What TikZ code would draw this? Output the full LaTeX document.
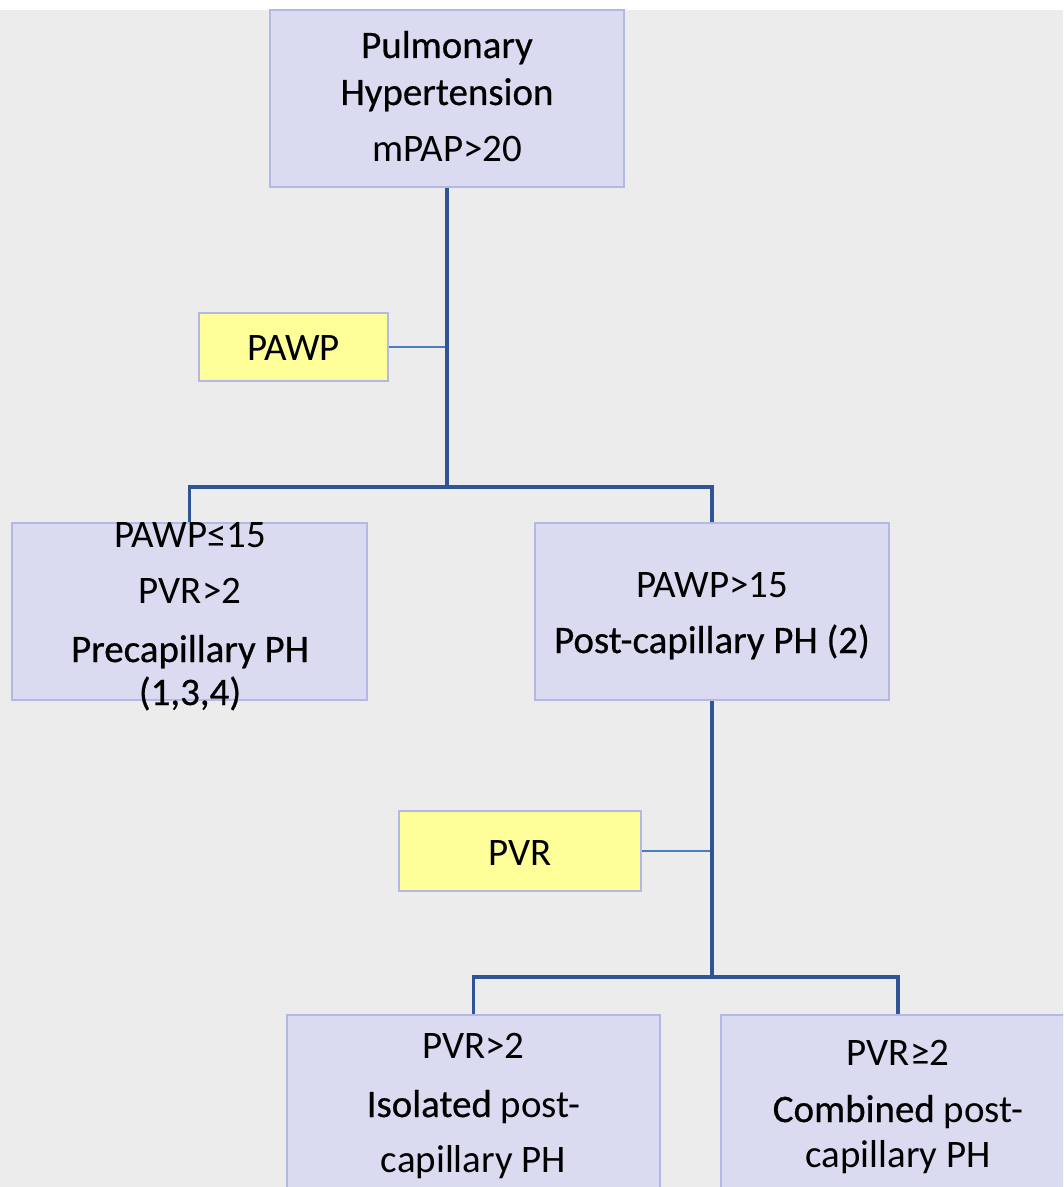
\documentclass[tikz,border=0pt]{standalone}
\usepackage{fontspec}
\setmainfont{Carlito}
\newfontfamily\strongface[FakeBold=0.6]{Carlito}
\definecolor{pagegray}{RGB}{236,236,236}
\definecolor{boxfill}{RGB}{218,218,240}
\definecolor{boxedge}{RGB}{180,184,228}
\definecolor{notefill}{RGB}{255,255,153}
\definecolor{trunkblue}{RGB}{47,85,151}
\definecolor{twigblue}{RGB}{74,126,187}
\newcommand{\strongtext}[1]{{\strongface #1}}
\tikzset{
  stepbox/.style={draw=boxedge, fill=boxfill, line width=2pt, inner sep=0pt,
    minimum width=#1*0.75pt, minimum height=177*0.75pt},
  notebox/.style={draw=boxedge, fill=notefill, line width=2pt, inner sep=0pt},
  txt/.style={anchor=base, inner sep=0pt, font=\fontsize{29.2}{35}\selectfont, text=black},
  trunk/.style={draw=trunkblue, line width=2.4pt},
  twig/.style={draw=twigblue, line width=1.5pt},
}
\begin{document}
\begin{tikzpicture}[x=0.75pt, y=-0.75pt]
  \useasboundingbox (0,0) rectangle (1063,1187);
  \clip (0,0) rectangle (1063,1187);
  % page background
  \fill[white] (0,0) rectangle (1063,1187);
  \fill[pagegray] (0,10) rectangle (1063,1187);

  % boxes
  \node[stepbox=354] (top)   at (447,98.5) {};
  \node[notebox, minimum width=189*0.75pt, minimum height=68*0.75pt] (pawp) at (293.5,347) {};
  \node[stepbox=355] (left)  at (189.5,611.5) {};
  \node[stepbox=354] (right) at (712,611.5) {};
  \node[notebox, minimum width=242*0.75pt, minimum height=80*0.75pt] (pvr) at (520,851) {};
  \node[stepbox=373] (iso)   at (473.5,1103.5) {};
  \node[stepbox=354] (comb)  at (898,1103.5) {};

  % junction points
  \coordinate (j1) at (447,487);
  \coordinate (j2) at (712,977);

  % connectors
  \draw[twig] (pawp.east) -- (pawp.east -| top.south);
  \draw[twig] (pvr.east) -- (pvr.east -| right.south);
  \draw[trunk] (top.south) -- (j1);
  \draw[trunk] (j1) -| (left.north);
  \draw[trunk] (j1) -| (right.north);
  \draw[trunk] (right.south) -- (j2);
  \draw[trunk] (j2) -| (iso.north);
  \draw[trunk] (j2) -| (comb.north);

  % texts
  \node[txt] (t1) at (447,58)  {\strongtext{Pulmonary}};
  \node[txt] (t2) at (447,105) {\strongtext{Hypertension}};
  \node[txt] (t3) at (447,162) {mPAP>20};

  \node[txt] (p1) at (293.5,360) {PAWP};

  \node[txt] (l1) at (190,547) {PAWP≤15};
  \node[txt] (l2) at (190,603) {PVR>2};
  \node[txt] (l3) at (190,662) {\strongtext{Precapillary PH}};
  \node[txt] (l4) at (190,705) {\strongtext{(1,3,4)}};

  \node[txt] (r1) at (712,597) {PAWP>15};
  \node[txt] (r2) at (712,653) {\strongtext{Post-capillary PH (2)}};

  \node[txt] (v1) at (520,865) {PVR};

  \node[txt] (i1) at (473.5,1058) {PVR>2};
  \node[txt] (i2) at (473.5,1117) {\strongtext{Isolated} post-};
  \node[txt] (i3) at (473.5,1172) {capillary PH};

  \node[txt] (c1) at (898,1065) {PVR≥2};
  \node[txt] (c2) at (898,1122) {\strongtext{Combined} post-};
  \node[txt] (c3) at (898,1167) {capillary PH};
\end{tikzpicture}
\end{document}
